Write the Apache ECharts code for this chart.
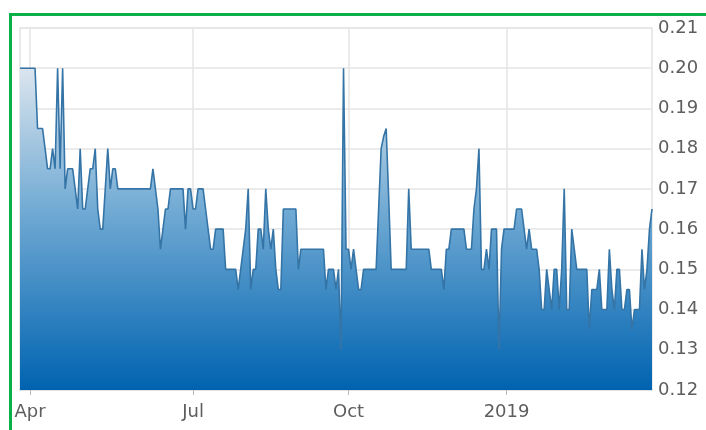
<!DOCTYPE html>
<html>
<head>
<meta charset="utf-8">
<script src="https://cdn.jsdelivr.net/npm/echarts@6/dist/echarts.min.js"></script>
<style>
	html, body { margin: 0; padding: 0; background: #fff; overflow: hidden; }
	#chart { position: absolute; left: 0; top: 0; width: 706px; height: 430px; }
	#frame {
		position: absolute; left: 9px; top: 13px; width: 800px; height: 500px;
		border-left: 3px solid #0bb04b; border-top: 3px solid #0bb04b; pointer-events: none;
	}
</style>
</head>
<body>
<div id="chart"></div>
<div id="frame"></div>
<script>
// daily closing prices, Mar 2018 - Mar 2019
const prices = [
	0.20, 0.20, 0.20, 0.20, 0.20, 0.20, 0.20, 0.185, 0.185, 0.185,
	0.18, 0.175, 0.175, 0.18, 0.175, 0.20, 0.175, 0.20, 0.17, 0.175,
	0.175, 0.175, 0.17, 0.165, 0.18, 0.165, 0.165, 0.17, 0.175, 0.175,
	0.18, 0.165, 0.16, 0.16, 0.17, 0.18, 0.17, 0.175, 0.175, 0.17,
	0.17, 0.17, 0.17, 0.17, 0.17, 0.17, 0.17, 0.17, 0.17, 0.17,
	0.17, 0.17, 0.17, 0.175, 0.17, 0.165, 0.155, 0.16, 0.165, 0.165,
	0.17, 0.17, 0.17, 0.17, 0.17, 0.17, 0.16, 0.17, 0.17, 0.165,
	0.165, 0.17, 0.17, 0.17, 0.165, 0.16, 0.155, 0.155, 0.16, 0.16,
	0.16, 0.16, 0.15, 0.15, 0.15, 0.15, 0.15, 0.145, 0.15, 0.155,
	0.16, 0.17, 0.145, 0.15, 0.15, 0.16, 0.16, 0.155, 0.17, 0.16,
	0.155, 0.16, 0.15, 0.145, 0.145, 0.165, 0.165, 0.165, 0.165, 0.165,
	0.165, 0.15, 0.155, 0.155, 0.155, 0.155, 0.155, 0.155, 0.155, 0.155,
	0.155, 0.155, 0.145, 0.15, 0.15, 0.15, 0.145, 0.15, 0.13, 0.20,
	0.155, 0.155, 0.15, 0.155, 0.15, 0.145, 0.145, 0.15, 0.15, 0.15,
	0.15, 0.15, 0.15, 0.165, 0.18, 0.183, 0.185, 0.168, 0.15, 0.15,
	0.15, 0.15, 0.15, 0.15, 0.15, 0.17, 0.155, 0.155, 0.155, 0.155,
	0.155, 0.155, 0.155, 0.155, 0.15, 0.15, 0.15, 0.15, 0.15, 0.145,
	0.155, 0.155, 0.16, 0.16, 0.16, 0.16, 0.16, 0.16, 0.155, 0.155,
	0.155, 0.165, 0.17, 0.18, 0.15, 0.15, 0.155, 0.15, 0.16, 0.16,
	0.16, 0.13, 0.155, 0.16, 0.16, 0.16, 0.16, 0.16, 0.165, 0.165,
	0.165, 0.16, 0.155, 0.16, 0.155, 0.155, 0.155, 0.15, 0.14, 0.14,
	0.15, 0.145, 0.14, 0.15, 0.15, 0.14, 0.15, 0.17, 0.14, 0.14,
	0.16, 0.155, 0.15, 0.15, 0.15, 0.15, 0.15, 0.135, 0.145, 0.145,
	0.145, 0.15, 0.14, 0.14, 0.14, 0.155, 0.145, 0.14, 0.15, 0.15,
	0.14, 0.14, 0.145, 0.145, 0.135, 0.14, 0.14, 0.14, 0.155, 0.145,
	0.15, 0.16, 0.165,
];

// month marks on the x axis (trading day index -> label)
const tickIndex = [4, 69, 131, 194];
const tickLabels = ['Apr', 'Jul', 'Oct', '2019'];

const days = prices.map((_, i) => i);
const isTick = idx => tickIndex.includes(idx);

const chart = echarts.init(document.getElementById('chart'), null, { renderer: 'canvas' });

chart.setOption({
	animation: false,
	backgroundColor: '#FFFFFF',
	grid: {
		left: 20,
		right: 54,
		top: 28,
		bottom: 40,
		show: true,
		borderColor: '#e4e4e4',
		borderWidth: 1.5,
	},
	xAxis: {
		type: 'category',
		data: days,
		boundaryGap: false,
		axisLine: { show: true, lineStyle: { color: '#e0e0e0', width: 1.5 } },
		axisTick: {
			show: true,
			interval: isTick,
			length: 5,
			lineStyle: { color: '#bbbbbb' },
		},
		axisLabel: {
			interval: isTick,
			margin: 13,
			fontFamily: 'DejaVu Sans',
			fontSize: 18,
			color: '#5e5e5e',
			formatter: v => tickLabels[tickIndex.indexOf(Number(v))] ?? '',
		},
		splitLine: {
			show: true,
			interval: isTick,
			lineStyle: { color: '#e4e4e4', width: 1.5 },
		},
	},
	yAxis: {
		type: 'value',
		position: 'right',
		min: 0.12,
		max: 0.21,
		interval: 0.01,
		axisLine: { show: false },
		axisTick: { show: false },
		axisLabel: {
			margin: 6,
			fontFamily: 'DejaVu Sans',
			fontSize: 18,
			color: '#5e5e5e',
			formatter: v => v.toFixed(2),
		},
		splitLine: { lineStyle: { color: '#e4e4e4', width: 1.5 } },
	},
	series: [
		{
			type: 'line',
			data: prices,
			showSymbol: false,
			lineStyle: { color: '#3474a6', width: 1.6 },
			areaStyle: {
				origin: 'start',
				opacity: 1,
				color: new echarts.graphic.LinearGradient(0, 0, 0, 1, [
					{ offset: 0, color: '#dbe5ee' },
					{ offset: 0.45, color: '#6fa9d3' },
					{ offset: 1, color: '#0063b0' },
				]),
			},
		},
	],
});
</script>
</body>
</html>
